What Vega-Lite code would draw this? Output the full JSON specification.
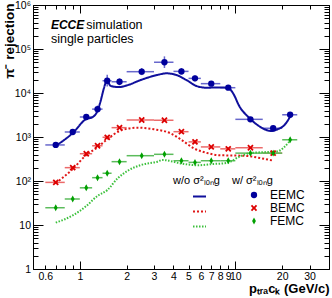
{
 "$schema": "https://vega.github.io/schema/vega-lite/v6.json",
 "width": 296, "height": 264,
 "autosize": {"type": "none"},
 "padding": {"left": 33, "top": 5, "right": 3, "bottom": 29},
 "background": "white",
 "config": {
  "view": {"stroke": null},
  "font": "Liberation Sans",
  "axis": {"grid": false, "domainColor": "black", "domainWidth": 1, "tickColor": "black", "tickWidth": 1, "labelColor": "black", "labelFont": "Liberation Sans", "labelFontSize": 10.5, "labelOverlap": false, "labelFlush": false, "titleColor": "black", "titleFont": "Liberation Sans"},
  "legend": {"titleFont": "Liberation Sans", "labelFont": "Liberation Sans", "titleColor": "black", "labelColor": "black"}
 },
 "datasets": {
  "pts": [
   {"det": "EEMC", "p": 0.7, "plo": 0.6, "phi": 0.8, "r": 660, "rlo": 610, "rhi": 710},
   {"det": "EEMC", "p": 0.9, "plo": 0.8, "phi": 1.0, "r": 1300, "rlo": 1200, "rhi": 1400},
   {"det": "EEMC", "p": 1.1, "plo": 1.0, "phi": 1.2, "r": 2850, "rlo": 2600, "rhi": 3150},
   {"det": "EEMC", "p": 1.3, "plo": 1.2, "phi": 1.4, "r": 4300, "rlo": 3600, "rhi": 5200},
   {"det": "EEMC", "p": 1.5, "plo": 1.4, "phi": 1.6, "r": 19000, "rlo": 14000, "rhi": 26000},
   {"det": "EEMC", "p": 1.8, "plo": 1.6, "phi": 2.0, "r": 18000, "rlo": 15000, "rhi": 21500},
   {"det": "EEMC", "p": 2.5, "plo": 2.0, "phi": 3.0, "r": 30500, "rlo": 25500, "rhi": 37000},
   {"det": "EEMC", "p": 3.5, "plo": 3.0, "phi": 4.0, "r": 50000, "rlo": 37000, "rhi": 68000},
   {"det": "EEMC", "p": 4.5, "plo": 4.0, "phi": 5.0, "r": 31000, "rlo": 26000, "rhi": 37000},
   {"det": "EEMC", "p": 5.5, "plo": 5.0, "phi": 6.0, "r": 21500, "rlo": 18500, "rhi": 25000},
   {"det": "EEMC", "p": 7.0, "plo": 6.0, "phi": 8.0, "r": 16300, "rlo": 14800, "rhi": 18000},
   {"det": "EEMC", "p": 9.0, "plo": 8.0, "phi": 10.0, "r": 13200, "rlo": 12000, "rhi": 14500},
   {"det": "EEMC", "p": 12.5, "plo": 10.0, "phi": 15.0, "r": 2520, "rlo": 2300, "rhi": 2750},
   {"det": "EEMC", "p": 17.5, "plo": 15.0, "phi": 20.0, "r": 1580, "rlo": 1450, "rhi": 1720},
   {"det": "EEMC", "p": 22.5, "plo": 20.0, "phi": 25.0, "r": 3200, "rlo": 2900, "rhi": 3500},
   {"det": "BEMC", "p": 0.7, "plo": 0.6, "phi": 0.8, "r": 93, "rlo": 87, "rhi": 99},
   {"det": "BEMC", "p": 0.9, "plo": 0.8, "phi": 1.0, "r": 201, "rlo": 188, "rhi": 214},
   {"det": "BEMC", "p": 1.1, "plo": 1.0, "phi": 1.2, "r": 417, "rlo": 390, "rhi": 445},
   {"det": "BEMC", "p": 1.3, "plo": 1.2, "phi": 1.4, "r": 632, "rlo": 590, "rhi": 675},
   {"det": "BEMC", "p": 1.5, "plo": 1.4, "phi": 1.6, "r": 985, "rlo": 920, "rhi": 1055},
   {"det": "BEMC", "p": 1.8, "plo": 1.6, "phi": 2.0, "r": 1630, "rlo": 1520, "rhi": 1740},
   {"det": "BEMC", "p": 2.5, "plo": 2.0, "phi": 3.0, "r": 2435, "rlo": 2270, "rhi": 2600},
   {"det": "BEMC", "p": 3.5, "plo": 3.0, "phi": 4.0, "r": 2400, "rlo": 2230, "rhi": 2570},
   {"det": "BEMC", "p": 4.5, "plo": 4.0, "phi": 5.0, "r": 1320, "rlo": 1230, "rhi": 1410},
   {"det": "BEMC", "p": 5.5, "plo": 5.0, "phi": 6.0, "r": 775, "rlo": 725, "rhi": 830},
   {"det": "BEMC", "p": 7.0, "plo": 6.0, "phi": 8.0, "r": 595, "rlo": 555, "rhi": 635},
   {"det": "BEMC", "p": 9.0, "plo": 8.0, "phi": 10.0, "r": 538, "rlo": 505, "rhi": 575},
   {"det": "BEMC", "p": 12.5, "plo": 10.0, "phi": 15.0, "r": 570, "rlo": 535, "rhi": 610},
   {"det": "BEMC", "p": 17.5, "plo": 15.0, "phi": 20.0, "r": 430, "rlo": 400, "rhi": 460},
   {"det": "FEMC", "p": 0.7, "plo": 0.6, "phi": 0.8, "r": 24.7, "rlo": 23, "rhi": 26.5},
   {"det": "FEMC", "p": 0.9, "plo": 0.8, "phi": 1.0, "r": 39, "rlo": 36.5, "rhi": 41.7},
   {"det": "FEMC", "p": 1.1, "plo": 1.0, "phi": 1.2, "r": 70, "rlo": 63, "rhi": 78},
   {"det": "FEMC", "p": 1.3, "plo": 1.2, "phi": 1.4, "r": 119, "rlo": 110, "rhi": 128},
   {"det": "FEMC", "p": 1.5, "plo": 1.4, "phi": 1.6, "r": 150, "rlo": 140, "rhi": 160},
   {"det": "FEMC", "p": 1.8, "plo": 1.6, "phi": 2.0, "r": 275, "rlo": 255, "rhi": 295},
   {"det": "FEMC", "p": 2.5, "plo": 2.0, "phi": 3.0, "r": 376, "rlo": 350, "rhi": 402},
   {"det": "FEMC", "p": 3.5, "plo": 3.0, "phi": 4.0, "r": 404, "rlo": 378, "rhi": 432},
   {"det": "FEMC", "p": 4.5, "plo": 4.0, "phi": 5.0, "r": 289, "rlo": 272, "rhi": 307},
   {"det": "FEMC", "p": 5.5, "plo": 5.0, "phi": 6.0, "r": 265, "rlo": 249, "rhi": 282},
   {"det": "FEMC", "p": 7.0, "plo": 6.0, "phi": 8.0, "r": 289, "rlo": 272, "rhi": 307},
   {"det": "FEMC", "p": 9.0, "plo": 8.0, "phi": 10.0, "r": 289, "rlo": 272, "rhi": 307},
   {"det": "FEMC", "p": 12.5, "plo": 10.0, "phi": 15.0, "r": 430, "rlo": 405, "rhi": 457},
   {"det": "FEMC", "p": 17.5, "plo": 15.0, "phi": 20.0, "r": 430, "rlo": 405, "rhi": 457},
   {"det": "FEMC", "p": 22.5, "plo": 20.0, "phi": 25.0, "r": 865, "rlo": 810, "rhi": 925}
  ],
  "cur": [
   {"det": "EEMC", "p": 0.70, "r": 630},
   {"det": "EEMC", "p": 0.90, "r": 1230},
   {"det": "EEMC", "p": 1.10, "r": 2560},
   {"det": "EEMC", "p": 1.20, "r": 2800},
   {"det": "EEMC", "p": 1.30, "r": 3970},
   {"det": "EEMC", "p": 1.36, "r": 6500},
   {"det": "EEMC", "p": 1.43, "r": 13000},
   {"det": "EEMC", "p": 1.49, "r": 19000},
   {"det": "EEMC", "p": 1.58, "r": 14500},
   {"det": "EEMC", "p": 1.78, "r": 13600},
   {"det": "EEMC", "p": 2.02, "r": 15000},
   {"det": "EEMC", "p": 2.46, "r": 19700},
   {"det": "EEMC", "p": 3.15, "r": 25700},
   {"det": "EEMC", "p": 3.6, "r": 28000},
   {"det": "EEMC", "p": 4.18, "r": 25700},
   {"det": "EEMC", "p": 4.85, "r": 19700},
   {"det": "EEMC", "p": 5.63, "r": 14400},
   {"det": "EEMC", "p": 6.52, "r": 13200},
   {"det": "EEMC", "p": 7.56, "r": 13300},
   {"det": "EEMC", "p": 8.97, "r": 13200},
   {"det": "EEMC", "p": 9.67, "r": 9850},
   {"det": "EEMC", "p": 10.65, "r": 4890},
   {"det": "EEMC", "p": 12.06, "r": 2890},
   {"det": "EEMC", "p": 13.6, "r": 1975},
   {"det": "EEMC", "p": 15.4, "r": 1500},
   {"det": "EEMC", "p": 16.95, "r": 1370},
   {"det": "EEMC", "p": 18.7, "r": 1500},
   {"det": "EEMC", "p": 20.7, "r": 1875},
   {"det": "EEMC", "p": 22.8, "r": 3160},
   {"det": "BEMC", "p": 0.70, "r": 89},
   {"det": "BEMC", "p": 0.90, "r": 187},
   {"det": "BEMC", "p": 1.10, "r": 390},
   {"det": "BEMC", "p": 1.30, "r": 583},
   {"det": "BEMC", "p": 1.50, "r": 885},
   {"det": "BEMC", "p": 1.83, "r": 1400},
   {"det": "BEMC", "p": 2.34, "r": 1630},
   {"det": "BEMC", "p": 2.99, "r": 1500},
   {"det": "BEMC", "p": 3.83, "r": 1213},
   {"det": "BEMC", "p": 4.55, "r": 840},
   {"det": "BEMC", "p": 5.40, "r": 555},
   {"det": "BEMC", "p": 6.58, "r": 433},
   {"det": "BEMC", "p": 8.0, "r": 384},
   {"det": "BEMC", "p": 9.75, "r": 380},
   {"det": "BEMC", "p": 11.9, "r": 370},
   {"det": "BEMC", "p": 14.4, "r": 333},
   {"det": "BEMC", "p": 17.6, "r": 289},
   {"det": "FEMC", "p": 0.70, "r": 11.3},
   {"det": "FEMC", "p": 0.90, "r": 16.5},
   {"det": "FEMC", "p": 1.10, "r": 27},
   {"det": "FEMC", "p": 1.30, "r": 46},
   {"det": "FEMC", "p": 1.50, "r": 62},
   {"det": "FEMC", "p": 1.75, "r": 115},
   {"det": "FEMC", "p": 2.02, "r": 169},
   {"det": "FEMC", "p": 2.46, "r": 230},
   {"det": "FEMC", "p": 3.15, "r": 275},
   {"det": "FEMC", "p": 3.4, "r": 300},
   {"det": "FEMC", "p": 4.5, "r": 250},
   {"det": "FEMC", "p": 5.67, "r": 228},
   {"det": "FEMC", "p": 7.2, "r": 243},
   {"det": "FEMC", "p": 8.8, "r": 257},
   {"det": "FEMC", "p": 10.75, "r": 364},
   {"det": "FEMC", "p": 12.5, "r": 433},
   {"det": "FEMC", "p": 15.9, "r": 456},
   {"det": "FEMC", "p": 18.5, "r": 470},
   {"det": "FEMC", "p": 22.5, "r": 824}
  ]
 },
 "layer": [
  {
   "data": {"name": "pts"},
   "mark": {"type": "rule", "strokeWidth": 1.5},
   "encoding": {
    "x": {"field": "plo", "type": "quantitative", "scale": {"type": "log", "domain": [0.5, 40], "nice": false}, "axis": {"orient": "bottom", "values": [1, 10], "labels": false, "domain": false, "title": null, "tickSize": -8}},
    "x2": {"field": "phi"},
    "y": {"field": "r", "type": "quantitative", "scale": {"type": "log", "domain": [1, 1000000], "nice": false}, "axis": {"orient": "left", "values": [1, 10, 100, 1000, 10000, 100000, 1000000], "labels": false, "domain": false, "title": null, "tickSize": -10}},
    "color": {"field": "det", "type": "nominal", "scale": {"domain": ["EEMC", "BEMC", "FEMC"], "range": ["#6868cc", "#ec6a6a", "#5cbc5c"]}, "legend": null}
   }
  },
  {
   "data": {"name": "pts"},
   "mark": {"type": "rule", "strokeWidth": 1.5},
   "encoding": {
    "x": {"field": "p", "type": "quantitative", "axis": {"orient": "top", "values": [1, 10], "labels": false, "domain": false, "title": null, "tickSize": -8}},
    "y": {"field": "rlo", "type": "quantitative", "axis": {"orient": "right", "values": [1, 10, 100, 1000, 10000, 100000, 1000000], "labels": false, "domain": false, "title": null, "tickSize": -10}},
    "y2": {"field": "rhi"},
    "color": {"field": "det", "type": "nominal", "scale": {"domain": ["EEMC", "BEMC", "FEMC"], "range": ["#6868cc", "#ec6a6a", "#5cbc5c"]}, "legend": null}
   }
  },
  {
   "data": {"name": "cur"},
   "mark": {"type": "line", "interpolate": "monotone"},
   "encoding": {
    "x": {"field": "p", "type": "quantitative", "axis": {"orient": "top", "values": [0.6, 0.7, 0.8, 0.9, 1, 2, 3, 4, 5, 6, 7, 8, 9, 10, 20, 30], "labels": false, "title": null, "tickSize": -4}},
    "y": {"field": "r", "type": "quantitative", "axis": {"orient": "right", "values": [1,2,3,4,5,6,7,8,9,10,20,30,40,50,60,70,80,90,100,200,300,400,500,600,700,800,900,1000,2000,3000,4000,5000,6000,7000,8000,9000,10000,20000,30000,40000,50000,60000,70000,80000,90000,100000,200000,300000,400000,500000,600000,700000,800000,900000,1000000], "labels": false, "title": null, "tickSize": -5}},
    "color": {"field": "det", "type": "nominal", "scale": {"domain": ["EEMC", "BEMC", "FEMC"], "range": ["#10109c", "#e01818", "#3cc03c"]},
     "legend": {"orient": "none", "legendX": 140, "legendY": 170, "padding": 0, "title": "w/o σ²ₗₒₙg", "titleFontSize": 11, "titleFontWeight": "normal", "titlePadding": 3, "labelFontSize": 12, "labelOpacity": 0, "symbolType": "stroke", "symbolSize": 169, "symbolStrokeWidth": 2, "symbolOffset": 19, "rowPadding": 1}},
    "strokeDash": {"field": "det", "type": "nominal", "scale": {"domain": ["EEMC", "BEMC", "FEMC"], "range": [[1, 0], [2, 2], [1.5, 1.5]]},
     "legend": {"orient": "none", "legendX": 140, "legendY": 170, "padding": 0, "title": "w/o σ²ₗₒₙg", "titleFontSize": 11, "titleFontWeight": "normal", "titlePadding": 3, "labelFontSize": 12, "labelOpacity": 0, "symbolType": "stroke", "symbolSize": 169, "symbolStrokeWidth": 2, "symbolOffset": 19, "rowPadding": 1}},
    "strokeWidth": {"field": "det", "type": "ordinal", "scale": {"domain": ["EEMC", "BEMC", "FEMC"], "range": [2, 2, 1.5]}, "legend": null}
   }
  },
  {
   "data": {"name": "pts"},
   "mark": {"type": "point", "filled": true, "opacity": 1, "size": 40},
   "encoding": {
    "x": {"field": "p", "type": "quantitative", "axis": {"orient": "bottom", "values": [0.6, 0.7, 0.8, 0.9, 1, 2, 3, 4, 5, 6, 7, 8, 9, 10, 20, 30], "labelExpr": "(datum.value == 0.7 || datum.value == 0.8 || datum.value == 0.9) ? '' : '' + datum.value", "labelPadding": 6, "tickSize": -4, "title": "pₜᵣₐcₖ (GeV/c)", "titleFontWeight": "bold", "titleFontSize": 13, "titleAlign": "right", "titleAnchor": "end", "titleBaseline": "alphabetic", "titleX": 296, "titleY": 23}},
    "y": {"field": "r", "type": "quantitative", "axis": {"orient": "left", "values": [1,2,3,4,5,6,7,8,9,10,20,30,40,50,60,70,80,90,100,200,300,400,500,600,700,800,900,1000,2000,3000,4000,5000,6000,7000,8000,9000,10000,20000,30000,40000,50000,60000,70000,80000,90000,100000,200000,300000,400000,500000,600000,700000,800000,900000,1000000], "labelExpr": "datum.value == 1 ? '1' : datum.value == 10 ? '10' : datum.value == 100 ? '10²' : datum.value == 1000 ? '10³' : datum.value == 10000 ? '10⁴' : datum.value == 100000 ? '10⁵' : datum.value == 1000000 ? '10⁶' : ''", "labelPadding": 7.5, "tickSize": -5, "title": "π⁻ rejection", "titleFontWeight": "bold", "titleFontSize": 13.5, "titleAngle": 270, "titleAlign": "right", "titleBaseline": "middle", "titleAnchor": "end", "titleX": -24, "titleY": -2}},
    "color": {"field": "det", "type": "nominal", "scale": {"domain": ["EEMC", "BEMC", "FEMC"], "range": ["#00009c", "#dd0000", "#00a000"]},
     "legend": {"orient": "none", "legendX": 199, "legendY": 170, "padding": 0, "title": "w/ σ²ₗₒₙg", "titleFontSize": 11, "titleFontWeight": "normal", "titlePadding": 3, "labelFontSize": 12, "symbolSize": 40, "symbolOffset": 16, "labelOffset": 10, "rowPadding": 1}},
    "shape": {"field": "det", "type": "nominal", "scale": {"domain": ["EEMC", "BEMC", "FEMC"], "range": ["circle", "M-1,-0.6L-0.6,-1L0,-0.4L0.6,-1L1,-0.6L0.4,0L1,0.6L0.6,1L0,0.4L-0.6,1L-1,0.6L-0.4,0Z", "M0,-1.1L0.6,0L0,1.1L-0.6,0Z"]},
     "legend": {"orient": "none", "legendX": 199, "legendY": 170, "padding": 0, "title": "w/ σ²ₗₒₙg", "titleFontSize": 11, "titleFontWeight": "normal", "titlePadding": 3, "labelFontSize": 12, "symbolSize": 40, "symbolOffset": 16, "labelOffset": 10, "rowPadding": 1}}
   }
  },
  {
   "data": {"values": [{}]},
   "mark": {"type": "text", "text": "ECCE", "fontSize": 12, "fontWeight": "bold", "fontStyle": "italic", "align": "left", "baseline": "alphabetic", "color": "black"},
   "encoding": {"x": {"datum": 0.652, "type": "quantitative", "axis": null}, "y": {"datum": 285000, "type": "quantitative", "axis": null}}
  },
  {
   "data": {"values": [{}]},
   "mark": {"type": "text", "text": "simulation", "fontSize": 12.5, "align": "left", "baseline": "alphabetic", "color": "black"},
   "encoding": {"x": {"datum": 1.1, "type": "quantitative", "axis": null}, "y": {"datum": 285000, "type": "quantitative", "axis": null}}
  },
  {
   "data": {"values": [{}]},
   "mark": {"type": "text", "text": "single particles", "fontSize": 12.5, "align": "left", "baseline": "alphabetic", "color": "black"},
   "encoding": {"x": {"datum": 0.652, "type": "quantitative", "axis": null}, "y": {"datum": 139000, "type": "quantitative", "axis": null}}
  }
 ],
 "resolve": {"scale": {"color": "independent", "shape": "independent", "strokeDash": "independent", "strokeWidth": "independent"}, "axis": {"x": "independent", "y": "independent"}}
}
